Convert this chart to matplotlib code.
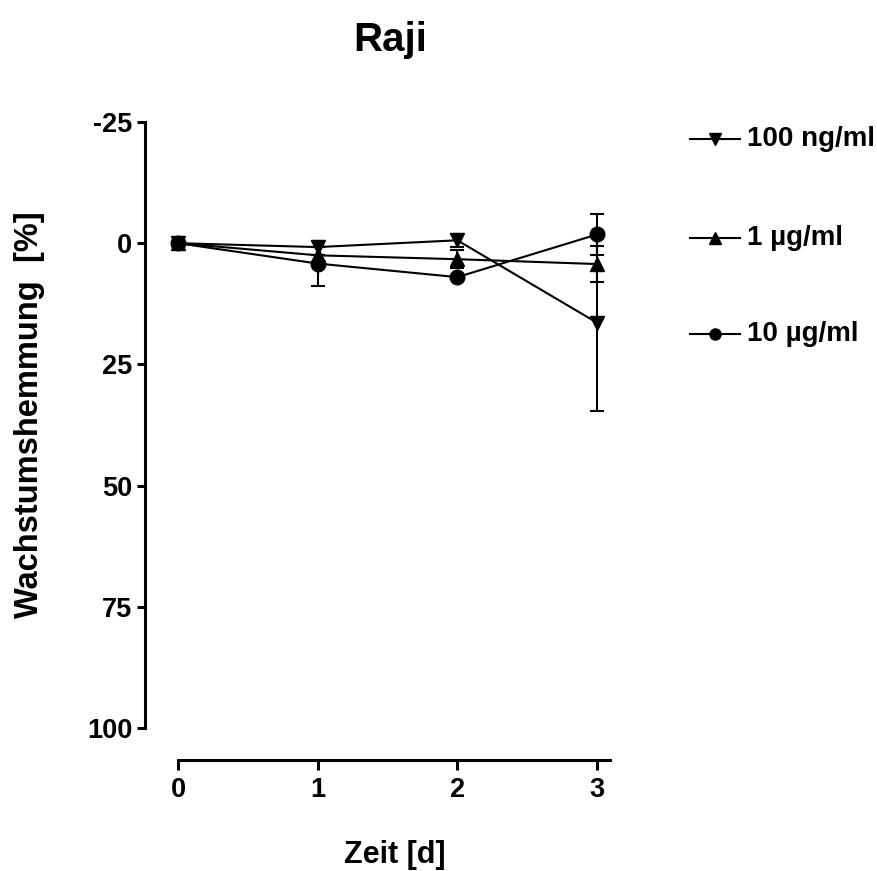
import matplotlib
matplotlib.use("Agg")
import matplotlib.pyplot as plt
from matplotlib.lines import Line2D

plt.rcParams['font.family'] = ['Liberation Sans', 'DejaVu Sans']
plt.rcParams['font.weight'] = 'bold'
plt.rcParams['axes.unicode_minus'] = False

# Growth inhibition of Raji cells over time (mean ± SD)
days = [0, 1, 2, 3]
series_labels = ["100 ng/ml", "1 µg/ml", "10 µg/ml"]
inhib_100ng = [0.0, 0.8, -0.6, 16.4]
err_100ng = [0.5, 0.0, 1.3, 18.3]
inhib_1ug = [0.0, 2.5, 3.3, 4.3]
err_1ug = [0.5, 0.0, 1.9, 3.7]
inhib_10ug = [0.0, 4.2, 7.0, -1.8]
err_10ug = [0.5, 4.7, 0.0, 4.3]
y_ticks = [-25, 0, 25, 50, 75, 100]
x_ticks = [0, 1, 2, 3]

W, H, DPI = 877, 871, 100
fig = plt.figure(figsize=(W / DPI, H / DPI), dpi=DPI)
ax = fig.add_axes([145 / W, 1 - 728 / H, (610 - 145) / W, (728 - 122) / H])

markers = ['v', '^', 'o']
values = [inhib_100ng, inhib_1ug, inhib_10ug]
errors = [err_100ng, err_1ug, err_10ug]
for vals, errs, mk, lab in zip(values, errors, markers, series_labels):
    ax.errorbar(days, vals, yerr=errs, color='black', marker=mk,
                markersize=10.5, linewidth=1.5, elinewidth=1.5,
                capsize=5, capthick=1.5, label=lab, clip_on=False)

ax.set_xlim(-0.236, 3.093)
ax.set_ylim(100, -25)
ax.set_yticks(y_ticks)
ax.set_xticks(x_ticks)
ax.tick_params(axis='y', labelsize=19.5, width=2.2, length=6, pad=3)
ax.tick_params(axis='x', labelsize=19.5, width=2.2, length=7, pad=5)
for lbl in ax.get_xticklabels() + ax.get_yticklabels():
    lbl.set_fontweight('bold')

for side in ('top', 'right'):
    ax.spines[side].set_visible(False)
ax.spines['left'].set_linewidth(2.2)
ax.spines['bottom'].set_linewidth(2.2)
ax.spines['bottom'].set_position(('outward', 32 * 72 / DPI))
ax.spines['bottom'].set_bounds(0, 3.093)

# Axis titles and chart title
fig.text(395 / W, 1 - 855 / H, "Zeit [d]", fontsize=22, fontweight='bold',
         ha='center', va='center')
fig.text(30 / W, 1 - 415 / H, "Wachstumshemmung  [%]", fontsize=23.5,
         fontweight='bold', ha='center', va='center', rotation=90)
fig.text(390 / W, 1 - 40 / H, "Raji", fontsize=29, fontweight='bold',
         ha='center', va='center')

# Legend: short line with marker, label to the right
legend_rows_px = [139, 238, 334]
for mk, lab, row in zip(markers, series_labels, legend_rows_px):
    yf = 1 - row / H
    fig.add_artist(Line2D([690 / W, 740 / W], [yf, yf], color='black',
                          linewidth=1.5, transform=fig.transFigure))
    fig.add_artist(Line2D([715 / W], [yf], color='black', marker=mk,
                          markersize=8, linestyle='none',
                          transform=fig.transFigure))
    fig.text(747 / W, yf, lab, fontsize=20, fontweight='bold',
             ha='left', va='center')

fig.savefig("out.png", dpi=DPI)
